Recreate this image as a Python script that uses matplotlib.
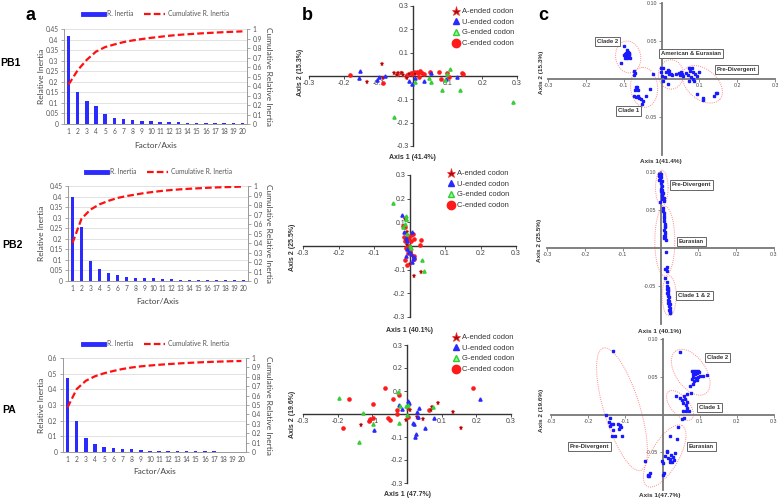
import numpy as np
import matplotlib
matplotlib.use('Agg')
import matplotlib.pyplot as plt
from matplotlib.lines import Line2D

# ---------------- data ----------------
factors = list(range(1, 21))
pb1_inertia = [0.415, 0.152, 0.110, 0.085, 0.048, 0.027, 0.025, 0.018, 0.014, 0.013,
               0.011, 0.011, 0.009, 0.007, 0.006, 0.006, 0.005, 0.005, 0.004, 0.004]
pb2_inertia = [0.400, 0.255, 0.097, 0.055, 0.037, 0.030, 0.020, 0.016, 0.016, 0.012,
               0.011, 0.009, 0.007, 0.006, 0.005, 0.005, 0.004, 0.003, 0.003, 0.003]
pa_inertia = [0.475, 0.195, 0.088, 0.048, 0.032, 0.024, 0.021, 0.016, 0.012, 0.009,
              0.008, 0.007, 0.006, 0.006, 0.005, 0.004, 0.004, 0.003, 0.003, 0.002]
inertia_ticks_045 = ['0', '0.05', '0.1', '0.15', '0.2', '0.25', '0.3', '0.35', '0.4', '0.45']
inertia_ticks_06 = ['0', '0.1', '0.2', '0.3', '0.4', '0.5', '0.6']
cum_ticks = ['0', '0.1', '0.2', '0.3', '0.4', '0.5', '0.6', '0.7', '0.8', '0.9', '1']

codon_labels = ['A-ended codon', 'U-ended codon', 'G-ended codon', 'C-ended codon']
b_ticks = [-0.3, -0.2, -0.1, 0.1, 0.2, 0.3]
b_ticklabels = ['-0.3', '-0.2', '-0.1', '0.1', '0.2', '0.3']
c_xticklabels = ['-0.3', '-0.2', '-0.1', '0.1', '0.2', '0.3']
c_yticks = [-0.05, 0.05, 0.10]
c_yticklabels = ['-0.05', '0.05', '0.10']

pb1_A = [(-0.089, 0.050), (-0.132, -0.024), (-0.086, -0.010), (-0.055, 0.011), (-0.043, 0.014),
         (-0.036, 0.011), (-0.031, 0.014), (-0.028, 0.004), (-0.021, -0.003), (-0.016, -0.010),
         (-0.012, 0.009), (0.005, 0.009), (-0.047, 0.003)]
pb1_U = [(-0.153, 0.021), (-0.156, -0.007), (-0.105, -0.017), (-0.098, -0.006), (-0.082, 0.000),
         (-0.012, -0.020), (-0.004, -0.036), (0.005, -0.009), (0.032, -0.023), (0.053, 0.014),
         (0.126, -0.006), (0.095, -0.014)]
pb1_G = [(-0.055, -0.174), (0.005, -0.026), (0.046, -0.007), (0.053, -0.024), (0.083, -0.060),
         (0.093, -0.017), (0.099, 0.009), (0.107, 0.029), (0.135, -0.060), (0.288, -0.113)]
pb1_C = [(-0.182, 0.004), (-0.087, -0.029), (-0.045, 0.009), (-0.018, 0.004), (-0.007, 0.014),
         (-0.002, 0.009), (0.003, 0.017), (0.011, 0.019), (0.015, 0.014), (0.020, 0.020),
         (0.026, 0.014), (0.032, 0.009), (0.048, 0.019), (0.075, 0.016), (0.080, -0.013),
         (0.099, 0.014), (0.104, -0.006), (0.141, 0.011), (0.143, 0.007), (0.017, -0.006)]

pb2_A = [(-0.014, 0.112), (-0.009, 0.020), (-0.007, 0.006), (-0.002, -0.008), (0.003, -0.015),
         (0.005, -0.030), (0.001, -0.074), (0.010, -0.046), (0.014, -0.126), (0.031, -0.109),
         (-0.008, 0.059), (0.008, -0.039)]
pb2_U = [(-0.021, 0.129), (-0.016, 0.059), (-0.009, 0.034), (-0.007, -0.011), (-0.002, -0.025),
         (0.003, -0.032), (0.008, 0.059), (0.009, -0.053), (0.012, -0.048), (-0.011, -0.042),
         (-0.007, 0.020), (0.008, -0.067)]
pb2_G = [(-0.046, 0.182), (-0.011, 0.125), (-0.009, 0.112), (-0.013, 0.094), (-0.018, 0.080),
         (-0.006, 0.052), (0.000, 0.000), (0.005, -0.007), (0.034, -0.060), (0.040, -0.107),
         (-0.010, 0.115)]
pb2_C = [(-0.018, 0.084), (-0.013, 0.080), (-0.016, 0.038), (-0.011, 0.034), (-0.007, 0.024),
         (-0.013, 0.020), (-0.002, 0.038), (0.003, 0.045), (0.010, 0.052), (0.014, 0.031),
         (-0.009, -0.008), (-0.005, -0.030), (0.000, -0.022), (0.012, -0.042), (0.014, -0.056),
         (0.031, 0.027), (0.029, 0.006), (-0.013, -0.060), (-0.008, -0.079), (-0.002, 0.000),
         (0.005, 0.020)]

pa_A = [(-0.133, -0.048), (0.002, 0.022), (0.010, 0.017), (0.031, -0.019), (0.045, -0.023),
        (0.069, 0.017), (0.071, 0.029), (0.090, 0.049), (0.134, 0.007), (0.155, -0.062),
        (-0.003, -0.026), (0.028, -0.014)]
pa_U = [(-0.094, -0.069), (-0.024, 0.039), (-0.015, 0.023), (0.004, 0.058), (0.005, 0.049),
        (0.029, 0.010), (0.033, -0.014), (0.036, 0.025), (0.018, -0.038), (0.021, -0.045),
        (0.026, -0.087), (0.024, -0.101), (0.052, -0.062), (0.078, -0.019), (0.211, 0.064)]
pa_G = [(-0.195, 0.069), (-0.128, 0.006), (-0.138, -0.120), (-0.099, -0.043), (-0.027, 0.097),
        (-0.019, 0.035), (-0.003, 0.035), (0.002, 0.039), (-0.024, -0.038), (0.000, -0.004),
        (0.076, 0.029)]
pa_C = [(-0.186, -0.062), (-0.168, 0.065), (-0.097, 0.043), (-0.099, -0.019), (-0.111, -0.029),
        (-0.107, -0.023), (-0.063, 0.115), (-0.054, -0.019), (-0.049, -0.026), (-0.039, 0.066),
        (-0.030, 0.017), (-0.022, 0.081), (-0.030, 0.000), (0.002, -0.014), (0.189, 0.111),
        (0.064, 0.017)]

# panel c: strain coordinates
pb1_clade2 = [(-0.099, 0.043), (-0.092, 0.038), (-0.089, 0.036), (-0.094, 0.034), (-0.087, 0.033),
              (-0.097, 0.033), (-0.091, 0.032), (-0.086, 0.031), (-0.094, 0.030), (-0.088, 0.029),
              (-0.083, 0.028), (-0.096, 0.028), (-0.090, 0.027), (-0.099, 0.031), (-0.085, 0.034),
              (-0.107, 0.021)]
pb1_clade1 = [(-0.074, 0.011), (-0.070, 0.008), (-0.072, 0.005), (-0.068, -0.010), (-0.064, -0.011),
              (-0.070, -0.014), (-0.063, -0.015), (-0.074, -0.022), (-0.068, -0.024), (-0.062, -0.023),
              (-0.054, -0.026), (-0.050, -0.029), (-0.052, -0.033), (-0.040, -0.022), (-0.031, -0.013),
              (-0.022, 0.006), (-0.059, -0.025)]
pb1_amer_eur = [(-0.002, 0.014), (0.004, 0.014), (-0.001, 0.009), (0.001, 0.004), (0.004, -0.003),
                (0.013, 0.009), (0.017, 0.012), (0.020, 0.011), (0.019, 0.006), (0.025, 0.007),
                (0.016, -0.006), (0.029, 0.005), (0.038, 0.006), (0.045, 0.008), (0.049, 0.005),
                (0.051, 0.009), (0.054, 0.007), (0.057, 0.004), (0.010, 0.002)]
pb1_prediv = [(0.064, 0.008), (0.069, 0.005), (0.072, 0.014), (0.075, 0.011), (0.080, 0.014),
              (0.082, 0.009), (0.078, 0.003), (0.084, 0.000), (0.089, 0.006), (0.093, 0.004),
              (0.087, -0.003), (0.100, 0.009), (0.073, -0.002), (0.095, -0.020), (0.109, -0.027),
              (0.111, -0.025), (0.140, -0.023), (0.144, -0.019), (0.148, -0.018)]

pb2_prediv = [(-0.003, 0.098), (0.000, 0.097), (-0.004, 0.095), (0.002, 0.094), (-0.001, 0.091),
              (-0.004, 0.090), (0.003, 0.088), (0.001, 0.085), (0.004, 0.082), (0.002, 0.078),
              (0.005, 0.076), (0.003, 0.074), (0.006, 0.072), (0.004, 0.068), (0.008, 0.066),
              (0.005, 0.064), (-0.001, 0.061), (0.009, 0.062), (0.004, 0.070), (0.001, 0.075)]
pb2_eurasian = [(0.006, 0.052), (0.007, 0.049), (0.008, 0.046), (0.009, 0.042), (0.010, 0.039),
                (0.009, 0.036), (0.011, 0.031), (0.011, 0.029), (0.012, 0.027), (0.010, 0.024),
                (0.011, 0.021), (0.011, 0.018), (0.013, 0.015), (0.010, 0.013), (0.014, 0.011),
                (0.009, 0.016), (0.015, -0.005), (0.011, -0.027), (0.015, -0.028), (0.018, -0.030),
                (0.016, -0.025)]
pb2_clade12 = [(0.013, -0.039), (0.016, -0.045), (0.018, -0.050), (0.017, -0.054), (0.019, -0.057),
               (0.018, -0.059), (0.020, -0.061), (0.019, -0.063), (0.022, -0.065), (0.019, -0.068),
               (0.023, -0.070), (0.020, -0.072), (0.024, -0.074), (0.022, -0.076), (0.025, -0.079),
               (0.023, -0.081), (0.026, -0.083), (0.024, -0.085), (0.026, -0.084), (0.021, -0.055),
               (0.019, -0.052)]

pa_clade2 = [(0.046, 0.083), (0.079, 0.057), (0.085, 0.058), (0.090, 0.057), (0.095, 0.058),
             (0.081, 0.054), (0.088, 0.053), (0.092, 0.055), (0.098, 0.056), (0.083, 0.050),
             (0.089, 0.048), (0.095, 0.050), (0.101, 0.051), (0.079, 0.047), (0.086, 0.045),
             (0.092, 0.046), (0.110, 0.051), (0.121, 0.052), (0.073, 0.038), (0.081, 0.040),
             (0.067, 0.027), (0.076, 0.029)]
pa_clade1 = [(0.037, 0.025), (0.047, 0.022), (0.052, 0.019), (0.058, 0.024), (0.061, 0.020),
             (0.065, 0.016), (0.056, 0.015), (0.064, 0.012), (0.067, 0.009), (0.055, 0.004),
             (0.062, 0.004), (0.070, 0.005), (0.052, -0.006), (0.058, -0.004)]
pa_eurasian = [(0.043, -0.017), (0.019, -0.029), (0.039, -0.032), (0.012, -0.048), (0.013, -0.050),
               (0.007, -0.055), (0.016, -0.057), (0.021, -0.059), (0.024, -0.053), (0.028, -0.056),
               (0.031, -0.060), (0.026, -0.063), (0.019, -0.063), (0.034, -0.051), (-0.002, -0.061),
               (0.001, -0.064), (0.003, -0.078), (0.000, -0.080), (-0.033, -0.077), (-0.038, -0.081),
               (-0.035, -0.082), (-0.040, -0.080)]
pa_prediv = [(-0.133, 0.084), (-0.151, -0.001), (-0.140, -0.004), (-0.145, -0.010), (-0.139, -0.012),
             (-0.142, -0.015), (-0.133, -0.012), (-0.121, -0.012), (-0.115, -0.014), (-0.114, -0.017),
             (-0.118, -0.019), (-0.112, -0.016), (-0.132, -0.020), (-0.136, -0.029), (-0.127, -0.029),
             (-0.109, -0.029), (-0.047, -0.061)]

# cluster outlines: (label, centre x, centre y, semi-axis a px, semi-axis b px, angle deg, label x, label y)
pb1_groups = [('Clade 2', -0.088, 0.029, 12.5, 16, 10, -0.143, 0.049),
              ('Clade 1', -0.046, -0.011, 20, 13.5, 95, -0.087, -0.042),
              ('American & Eurasian', 0.025, 0.006, 12.5, 14.7, 0, 0.079, 0.034),
              ('Pre-Divergent', 0.108, -0.007, 23, 15, -40, 0.198, 0.013)]
pb2_groups = [('Pre-Divergent', 0.0035, 0.079, 6.3, 17.7, 0, 0.082, 0.083),
              ('Eurasian', 0.0114, 0.009, 10, 35, 0, 0.082, 0.009),
              ('Clade 1 & 2', 0.0229, -0.063, 7, 20, 0, 0.090, -0.063)]
pa_groups = [('Clade 2', 0.076, 0.056, 26, 15, 125, 0.148, 0.076),
             ('Clade 1', 0.047, 0.012, 18, 9, 130, 0.126, 0.009),
             ('Eurasian', 0.006, -0.055, 35, 14, 60, 0.105, -0.042),
             ('Pre-Divergent', -0.109, 0.007, 64, 18, 107, -0.196, -0.042)]

# ---------------- figure ----------------
W, H = 778, 501
fig = plt.figure(figsize=(W / 100, H / 100), dpi=100)
FA = ['Lato', 'DejaVu Sans']
FB = ['Liberation Sans', 'DejaVu Sans']


def fx(p):
    return p / W


def fy(p):
    return 1 - p / H


def rect(l, t, r, b):
    return [l / W, 1 - b / H, (r - l) / W, (b - t) / H]


# ---------- panel a ----------
def inertia_panel(box, vals, ymax, ylabels, leg_xy, name, name_xy, ylab_y, xlab_y):
    ax = fig.add_axes(rect(*box))
    ax.bar(factors, vals, width=0.38, color='#2b2bff', zorder=3)
    ax.set_xlim(0.5, 20.5)
    ax.set_ylim(0, ymax)
    yt = np.linspace(0, ymax, len(ylabels))
    ax.set_yticks(yt)
    ax.set_yticklabels(ylabels, family=FA, fontsize=4.8, color='#555')
    ax.set_xticks(factors)
    ax.set_xticklabels([str(f) for f in factors], family=FA, fontsize=4.8, color='#555')
    ax.tick_params(axis='x', length=0, pad=3)
    ax.tick_params(axis='y', length=2, width=0.6, color='#999', pad=2)
    ax.yaxis.grid(True, color='#dddddd', lw=0.6, zorder=0)
    for s in ['top', 'right']:
        ax.spines[s].set_visible(False)
    for s in ['left', 'bottom']:
        ax.spines[s].set_color('#999')
        ax.spines[s].set_linewidth(0.7)
    ax2 = ax.twinx()
    ax2.plot(factors, np.cumsum(vals), ls=(0, (3, 1.4)), color='#ff1010', lw=1.6, zorder=4)
    ax2.set_ylim(0, 1)
    ax2.set_yticks(np.linspace(0, 1, 11))
    ax2.set_yticklabels(cum_ticks, family=FA, fontsize=4.8, color='#555')
    ax2.tick_params(axis='y', length=2, width=0.6, color='#999', pad=2)
    for s in ['top', 'left', 'bottom']:
        ax2.spines[s].set_visible(False)
    ax2.spines['right'].set_color('#999')
    ax2.spines['right'].set_linewidth(0.7)
    handles = [Line2D([], [], color='#2b2bff', lw=3.5),
               Line2D([], [], color='#ff1010', lw=1.6, ls=(0, (3, 1.4)))]
    fig.legend(handles, ['R. Inertia', 'Cumulative R. Inertia'], loc='center',
               bbox_to_anchor=(fx(leg_xy[0]), fy(leg_xy[1])), ncol=2, frameon=False,
               prop={'family': FA, 'size': 4.8}, handlelength=3.2, handletextpad=0.4,
               columnspacing=1.6, labelcolor='#555')
    fig.text(fx(name_xy[0]), fy(name_xy[1]), name, fontsize=7.5, fontweight='bold',
             family=FB, ha='left', va='center')
    fig.text(fx(41), fy(ylab_y), 'Relative Inertia', rotation=90, ha='center', va='center',
             family=FA, fontsize=6, color='#444')
    fig.text(fx(268), fy(ylab_y), 'Cumulative Relative Inertia', rotation=270, ha='center',
             va='center', family=FA, fontsize=6, color='#444')
    fig.text(fx((box[0] + box[2]) / 2), fy(xlab_y), 'Factor/Axis', ha='center', va='center',
             family=FA, fontsize=6, color='#444')


inertia_panel((64, 29, 247, 124), pb1_inertia, 0.45, inertia_ticks_045, (156, 14), 'PB1', (0, 63), 76, 145)
inertia_panel((68, 186, 248, 281), pb2_inertia, 0.45, inertia_ticks_045, (159, 172), 'PB2', (2, 245), 233, 301)
inertia_panel((63, 358, 246, 452), pa_inertia, 0.6, inertia_ticks_06, (156, 344), 'PA', (2, 410), 405, 472)


# ---------- panel b ----------
def cross_axes(box, xlim, ylim, xt, xtl, yt, ytl, fs, spine_col, spine_lw):
    ax = fig.add_axes(rect(*box))
    ax.patch.set_alpha(0)
    ax.set_xlim(*xlim)
    ax.set_ylim(*ylim)
    for s in ['top', 'right']:
        ax.spines[s].set_visible(False)
    for s in ['left', 'bottom']:
        ax.spines[s].set_position('zero')
        ax.spines[s].set_color(spine_col)
        ax.spines[s].set_linewidth(spine_lw)
    ax.set_xticks(xt)
    ax.set_xticklabels(xtl, family=FB, fontsize=fs, color='#444')
    ax.set_yticks(yt)
    ax.set_yticklabels(ytl, family=FB, fontsize=fs, color='#444')
    ax.tick_params(length=2, width=0.6, color=spine_col, pad=1)
    return ax


marker_style = {
    'A': dict(marker='*', color='#8b1010', mec='#ff2a2a', mew=0.3, ms=3.6),
    'U': dict(marker='^', color='#2a2aff', mec='#2a2aff', ms=2.3),
    'G': dict(marker='^', color='#44ee44', mec='#33cc33', ms=2.3),
    'C': dict(marker='o', color='#ff1a1a', mec='#ff1a1a', ms=2.3),
}
legend_style = {
    'A': dict(marker='*', color='#a01010', mec='#ff2a2a', mew=0.5, ms=6.5),
    'U': dict(marker='^', color='#2a2aff', mec='#2a2aff', ms=4.5),
    'G': dict(marker='^', color='#88ff88', mec='#33cc33', ms=4.5),
    'C': dict(marker='o', color='#ff1a1a', mec='#ff1a1a', ms=6),
}


def codon_panel(box, A, U, G, C, xlab, xlab_xy, ylab, ylab_xy, leg_xy):
    ax = cross_axes(box, (-0.3, 0.3), (-0.3, 0.3), b_ticks, b_ticklabels, b_ticks, b_ticklabels,
                    5.0, '#333', 1.0)
    for key, pts in zip(['C', 'A', 'U', 'G'], [C, A, U, G]):
        arr = np.array(pts)
        ax.plot(arr[:, 0], arr[:, 1], ls='none', zorder=3, **marker_style[key])
    handles = [Line2D([], [], ls='none', **legend_style[k]) for k in ['A', 'U', 'G', 'C']]
    fig.legend(handles, codon_labels, loc='upper left', bbox_to_anchor=(fx(leg_xy[0]), fy(leg_xy[1])),
               frameon=False, prop={'family': FB, 'size': 5.4}, handlelength=1.0,
               handletextpad=0.3, labelspacing=0.45, borderpad=0, borderaxespad=0,
               labelcolor='#333')
    fig.text(fx(xlab_xy[0]), fy(xlab_xy[1]), xlab, ha='center', va='center', family=FB,
             fontsize=5, fontweight='bold', color='#333')
    fig.text(fx(ylab_xy[0]), fy(ylab_xy[1]), ylab, ha='center', va='center', rotation=90,
             family=FB, fontsize=5, fontweight='bold', color='#333')


codon_panel((309, 6, 517, 146), pb1_A, pb1_U, pb1_G, pb1_C, 'Axis 1 (41.4%)', (412, 157),
            'Axis 2 (15.3%)', (300, 72), (452, 8))
codon_panel((303, 175, 516, 317), pb2_A, pb2_U, pb2_G, pb2_C, 'Axis 1 (40.1%)', (409, 331),
            'Axis 2 (25.5%)', (292, 247), (447, 170))
codon_panel((303, 345, 511, 483), pa_A, pa_U, pa_G, pa_C, 'Axis 1 (47.7%)', (408, 495),
            'Axis 2 (19.6%)', (292, 414), (452, 334))


# ---------- panel c ----------
def outline(ax, cx, cy, a, b, ang):
    pos = ax.get_position()
    x0, x1 = ax.get_xlim()
    y0, y1 = ax.get_ylim()
    sx = pos.width * W / (x1 - x0)
    sy = pos.height * H / (y1 - y0)
    t = np.linspace(0, 2 * np.pi, 240)
    th = np.radians(ang)
    px = a * np.cos(t) * np.cos(th) - b * np.sin(t) * np.sin(th)
    py = a * np.cos(t) * np.sin(th) + b * np.sin(t) * np.cos(th)
    ax.plot(cx + px / sx, cy + py / sy, ls=(0, (1, 1.2)), color='#ff8a8a', lw=0.7,
            clip_on=False, zorder=2)


def strain_panel(box, clusters, groups, xlab, xlab_xy, ylab, ylab_xy):
    ax = cross_axes(box, (-0.3, 0.3), (-0.1, 0.1), b_ticks, c_xticklabels, c_yticks, c_yticklabels,
                    3.8, '#777', 1.3)
    for pts in clusters:
        arr = np.array(pts)
        ax.plot(arr[:, 0], arr[:, 1], ls='none', marker='s', ms=1.8, color='#1a1aff',
                mec='#1a1aff', zorder=3)
    for (lab, cx, cy, a, b, ang, lx, ly) in groups:
        outline(ax, cx, cy, a, b, ang)
        ax.text(lx, ly, lab, ha='center', va='center', family=FB, fontsize=4.3,
                fontweight='bold', color='#333', zorder=5,
                bbox=dict(boxstyle='square,pad=0.35', fc='white', ec='#666', lw=0.7))
    fig.text(fx(xlab_xy[0]), fy(xlab_xy[1]), xlab, ha='center', va='center', family=FB,
             fontsize=4.6, fontweight='bold', color='#333')
    fig.text(fx(ylab_xy[0]), fy(ylab_xy[1]), ylab, ha='center', va='center', rotation=90,
             family=FB, fontsize=4.6, fontweight='bold', color='#333')


strain_panel((548, 3, 775, 155), [pb1_clade2, pb1_clade1, pb1_amer_eur, pb1_prediv], pb1_groups,
             'Axis 1(41.4%)', (661, 161), 'Axis 2 (15.3%)', (541, 72))
strain_panel((547, 172, 774, 324), [pb2_prediv, pb2_eurasian, pb2_clade12], pb2_groups,
             'Axis 1 (40.1%)', (660, 332), 'Axis 2 (25.5%)', (539, 240))
strain_panel((551, 339, 774, 490), [pa_clade2, pa_clade1, pa_eurasian, pa_prediv], pa_groups,
             'Axis 1(47.7%)', (660, 496), 'Axis 2 (19.6%)', (542, 410))

# panel letters
for letter, (px_, py_) in zip(['a', 'b', 'c'], [(30, 15), (307, 15), (543, 16)]):
    fig.text(fx(px_), fy(py_), letter, ha='center', va='center', fontsize=13,
             fontweight='bold', family=FB)

fig.savefig('out.png', dpi=100)
